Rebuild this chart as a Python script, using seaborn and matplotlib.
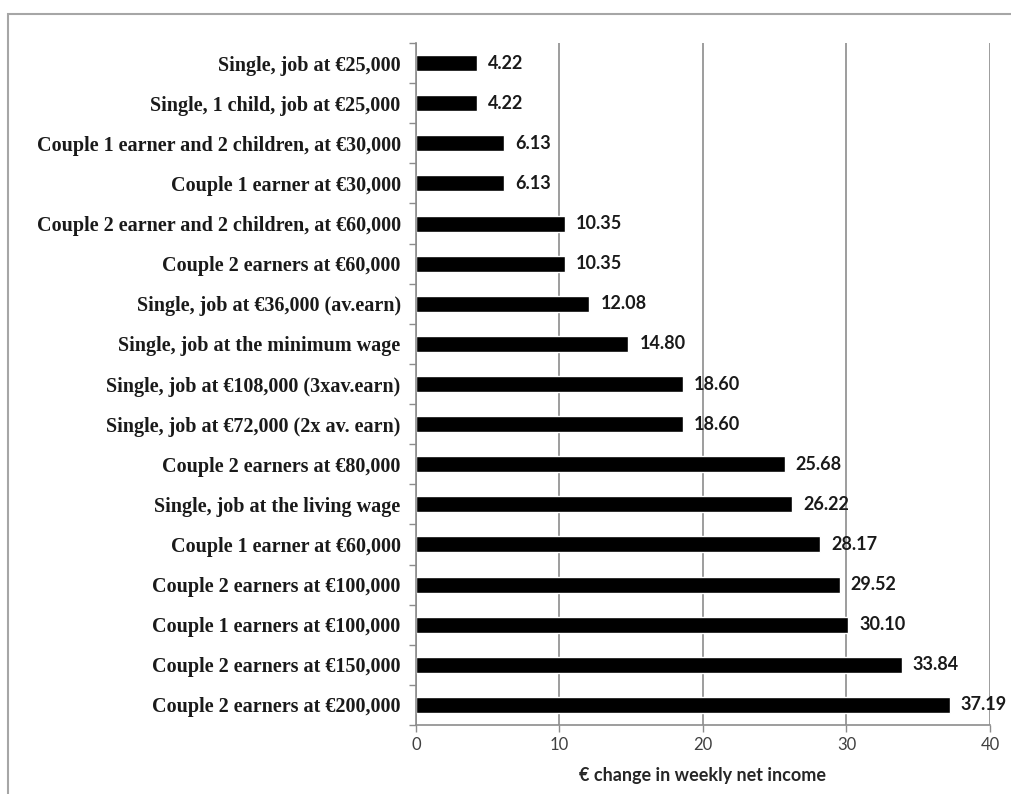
import matplotlib
matplotlib.use("Agg")
import matplotlib.pyplot as plt
import seaborn as sns
import numpy as np
from matplotlib.patches import Rectangle

categories = [
    "Single, job at €25,000",
    "Single, 1 child, job at €25,000",
    "Couple 1 earner and 2 children, at €30,000",
    "Couple 1 earner at €30,000",
    "Couple 2 earner and 2 children, at €60,000",
    "Couple 2 earners at €60,000",
    "Single, job at €36,000 (av.earn)",
    "Single, job at the minimum wage",
    "Single, job at €108,000 (3xav.earn)",
    "Single, job at €72,000 (2x av. earn)",
    "Couple 2 earners at €80,000",
    "Single, job at the living wage",
    "Couple 1 earner at €60,000",
    "Couple 2 earners at €100,000",
    "Couple 1 earners at €100,000",
    "Couple 2 earners at €150,000",
    "Couple 2 earners at €200,000",
]
values = [4.22, 4.22, 6.13, 6.13, 10.35, 10.35, 12.08, 14.80, 18.60, 18.60,
          25.68, 26.22, 28.17, 29.52, 30.10, 33.84, 37.19]
x_ticks = [0, 10, 20, 30, 40]
x_label = "€ change in weekly net income"

sns.set_theme(style="white")
plt.rcParams["font.family"] = ["Lato", "DejaVu Sans"]

fig = plt.figure(figsize=(10.12, 7.94), dpi=100)
ax = fig.add_axes([416 / 1012, 1 - 725 / 794, (990 - 416) / 1012, (725 - 43) / 794])

sns.barplot(x=values, y=categories, color="black", saturation=1, width=0.4,
            orient="h", ax=ax)

ax.set_xlim(0, 40)
ax.set_ylim(len(categories) - 0.5, -0.5)
ax.set_xticks(x_ticks)
ax.set_xticklabels([str(t) for t in x_ticks], fontsize=12, color="#404040")
ax.xaxis.grid(True, color="#8c8c8c", linewidth=1.2)
ax.set_axisbelow(True)

# category labels in a bold serif face
ax.set_yticks(range(len(categories)))
ax.set_yticklabels(categories, fontsize=14.5, fontweight="bold",
                   family=["Liberation Serif", "DejaVu Serif"], color="#1a1a1a")
ax.set_yticks(np.arange(-0.5, len(categories), 1), minor=True)
ax.tick_params(axis="y", which="major", length=0, pad=11)
ax.tick_params(axis="y", which="minor", length=5, color="#8c8c8c", width=1, left=True)
ax.tick_params(axis="x", which="major", length=5, color="#8c8c8c", width=1, bottom=True, pad=4)

for s in ["top", "right"]:
    ax.spines[s].set_visible(False)
for s in ["left", "bottom"]:
    ax.spines[s].set_color("#8c8c8c")
    ax.spines[s].set_linewidth(1.2)

ax.set_ylabel("")
ax.set_xlabel(x_label, fontsize=13, fontweight="bold", color="#262626", labelpad=10)

ax.bar_label(ax.containers[0], labels=[f"{v:.2f}" for v in values], padding=8,
             fontsize=13, fontweight="bold", color="#1a1a1a")

# chart frame
fig.patches.append(Rectangle((8 / 1012, -0.05), 1.1, 1 - 14 / 794 + 0.05,
                             transform=fig.transFigure, fill=False,
                             edgecolor="#a6a6a6", linewidth=1.5))

fig.savefig("out.png", dpi=100)
